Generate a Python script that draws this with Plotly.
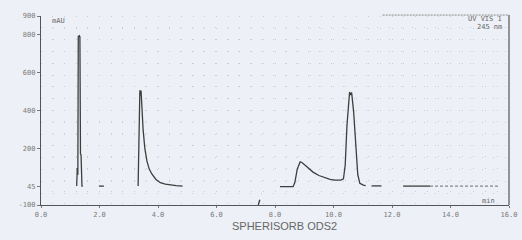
import numpy as np
import plotly.graph_objects as go

# ---- data (None = gap in the trace) ----
time_min = [1.22, 1.24, 1.26, 1.275, 1.29, 1.31, 1.33, 1.35, 1.37, 1.40, 1.43, None,
            1.98, 2.15, None,
            3.32, 3.35, 3.38, 3.40, 3.42, 3.45, 3.49, 3.55, 3.62, 3.70, 3.79, 3.93, 4.08, 4.25, 4.43, 4.62, 4.84, None,
            7.43, 7.48, None,
            8.17, 8.40, 8.62, 8.68, 8.76, 8.86, 8.92, 9.05, 9.30, 9.50, 9.68, 9.88, 10.05, 10.25, 10.34, 10.40,
            10.46, 10.52, 10.55, 10.58, 10.62, 10.69, 10.76, 10.83, 10.90, 11.02, 11.10, None,
            11.30, 11.64, None,
            12.38, 13.30]
signal_mau = [0, 95, 60, 795, 790, 795, 790, 170, 165, 0, 0, None,
              0, 0, None,
              0, 300, 507, 480, 505, 420, 300, 200, 133, 90, 64, 35, 18, 10, 5, 2, 0, None,
              -100, -72, None,
              -3, -3, -3, 20, 90, 128, 125, 108, 74, 56, 45, 36, 32, 32, 38, 110,
              320, 470, 498, 482, 495, 390, 200, 60, 15, 5, 3, None,
              1, 1, None,
              0, 0]
tail_time = [13.30, 15.65]
tail_signal = [0, 0]

x_tickvals = [0, 2, 4, 6, 8, 10, 12, 14, 16]
x_ticktext = ["0.0", "2.0", "4.0", "6.0", "8.0", "10.0", "12.0", "14.0", "16.0"]
y_tickvals = [-100, 0, 200, 400, 600, 800, 900]
y_ticktext = ["-100", "45", "200", "400", "600", "800", "900"]

BG = "#edf0f6"
LINE = "#3e3e3e"
TXT = "#7a7a7a"

fig = go.Figure()
fig.add_trace(go.Scatter(x=time_min, y=signal_mau, mode="lines", connectgaps=False,
                         line=dict(color=LINE, width=1.3), hoverinfo="skip", showlegend=False))
fig.add_trace(go.Scatter(x=tail_time, y=tail_signal, mode="lines",
                         line=dict(color="#6a6a6a", width=1, dash="3px,2px"),
                         hoverinfo="skip", showlegend=False))

fig.update_layout(
    width=522, height=240,
    margin=dict(l=41, r=13, t=16, b=35, autoexpand=False),
    paper_bgcolor=BG, plot_bgcolor=BG,
    font=dict(family="DejaVu Sans Mono, monospace", size=7, color=TXT),
    showlegend=False,
    xaxis=dict(range=[0, 16], tickvals=x_tickvals, ticktext=x_ticktext, automargin=False,
               showline=True, linecolor="#555", linewidth=1.2, mirror=False,
               ticks="outside", ticklen=2, tickcolor="#777",
               showgrid=False, zeroline=False,
               minor=dict(dtick=0.4, showgrid=True, gridcolor="#c9cdd9", gridwidth=1,
                          griddash="1px,10.7px", ticks="")),
    yaxis=dict(range=[-100, 900], tickvals=y_tickvals, ticktext=y_ticktext, automargin=False,
               showline=True, linecolor="#555", linewidth=1.2,
               ticks="outside", ticklen=3, tickcolor="#777",
               showgrid=False, zeroline=False,
               minor=dict(dtick=62.5, tick0=-100, showgrid=True, gridcolor="#c9cdd9", gridwidth=1,
                          griddash="1px,10.6px", ticks="")),
)

# right border and partial top border of the recorder frame
fig.add_shape(type="line", xref="paper", yref="paper", x0=1, x1=1, y0=0, y1=1.005,
              line=dict(color="#555", width=1.2))
fig.add_shape(type="line", xref="paper", yref="paper", x0=0.73, x1=1, y0=1.005, y1=1.005,
              line=dict(color="#8a8a8a", width=1, dash="2px,1px"))

fig.add_annotation(text="mAU", xref="paper", yref="paper", x=0.02, y=0.975,
                   xanchor="left", yanchor="middle", showarrow=False,
                   font=dict(size=7, color="#666"))
fig.add_annotation(text="UV VIS 1", xref="paper", yref="paper", x=0.99, y=0.985,
                   xanchor="right", yanchor="middle", showarrow=False,
                   font=dict(size=7, color="#666"))
fig.add_annotation(text="245 nm", xref="paper", yref="paper", x=0.99, y=0.94,
                   xanchor="right", yanchor="middle", showarrow=False,
                   font=dict(size=7, color="#666"))
fig.add_annotation(text="min", xref="paper", yref="paper", x=0.975, y=0.02,
                   xanchor="right", yanchor="middle", showarrow=False,
                   font=dict(size=7, color="#666"))
fig.add_annotation(text="SPHERISORB ODS2", xref="paper", yref="paper", x=0.52, y=-0.11,
                   xanchor="center", yanchor="middle", showarrow=False,
                   font=dict(family="Liberation Sans, Arial, sans-serif", size=11, color="#666"))

fig.write_html("out.html", config={"displayModeBar": False, "staticPlot": True},
               post_script="document.body.style.margin='0px';document.body.style.overflow='hidden';")
